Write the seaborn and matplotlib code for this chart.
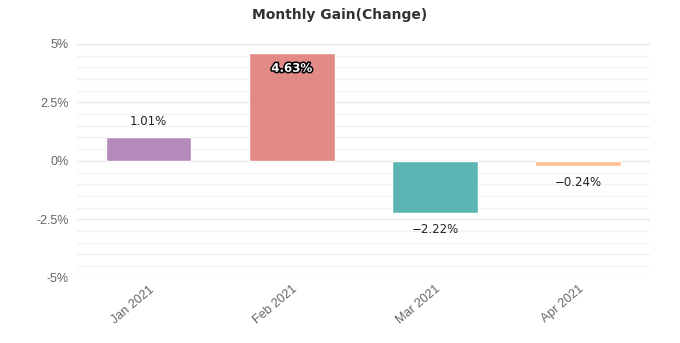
import matplotlib
matplotlib.use("Agg")
import matplotlib.pyplot as plt
import seaborn as sns
import pandas as pd
from matplotlib.ticker import MultipleLocator, FuncFormatter
import matplotlib.patheffects as pe

months = ["Jan 2021", "Feb 2021", "Mar 2021", "Apr 2021"]
gains = [1.01, 4.63, -2.22, -0.24]
colors = ["#b589b9", "#e28a86", "#5bb5b3", "#fdbf92"]
title = "Monthly Gain(Change)"

df = pd.DataFrame({"month": months, "gain": gains})

sns.set_theme(style="white")
plt.rcParams["font.family"] = ["Liberation Sans", "DejaVu Sans"]

fig = plt.figure(figsize=(6.8, 3.43), dpi=100)
ax = fig.add_axes([0.113, 0.19, 0.843, 0.682])

sns.barplot(data=df, x="month", y="gain", hue="month", palette=colors,
            width=0.6, legend=False, ax=ax, saturation=1)

ax.set_ylim(-5, 5)
ax.set_xlim(-0.5, 3.5)
ax.yaxis.set_major_locator(MultipleLocator(2.5))
ax.yaxis.set_minor_locator(MultipleLocator(0.5))
ax.yaxis.set_major_formatter(FuncFormatter(lambda v, p: f"{v:g}%"))
ax.grid(which="major", axis="y", color="#e6e6e6", linewidth=1)
ax.grid(which="minor", axis="y", color="#f2f2f2", linewidth=1)
ax.set_axisbelow(True)
for s in ax.spines.values():
    s.set_visible(False)
ax.tick_params(axis="both", which="both", length=0, colors="#666666", labelsize=9)
ax.tick_params(axis="y", pad=6)
ax.set_xlabel("")
ax.set_ylabel("")
for lab in ax.get_xticklabels():
    lab.set_rotation(40)
    lab.set_ha("right")
    lab.set_rotation_mode("anchor")
ax.tick_params(axis="x", pad=4)

for i, v in enumerate(gains):
    txt = f"{v:.2f}%".replace("-", "\u2212")
    if v >= 4:
        t = ax.annotate(txt, (i, v), xytext=(0, -16), textcoords="offset points",
                        ha="center", va="bottom", fontsize=8.5, color="white",
                        fontweight="bold", family="DejaVu Sans")
        t.set_path_effects([pe.withStroke(linewidth=2.2, foreground="black")])
    elif v >= 0:
        ax.annotate(txt, (i, v), xytext=(0, 7), textcoords="offset points",
                    ha="center", va="bottom", fontsize=8.5, color="#222222",
                    family="DejaVu Sans")
    else:
        ax.annotate(txt, (i, v), xytext=(0, -7), textcoords="offset points",
                    ha="center", va="top", fontsize=8.5, color="#222222",
                    family="DejaVu Sans")

fig.text(0.5, 0.955, title, ha="center", va="center", fontsize=10,
         fontweight="bold", color="#333333", family="DejaVu Sans")

fig.savefig("out.png", dpi=100, facecolor="white")
